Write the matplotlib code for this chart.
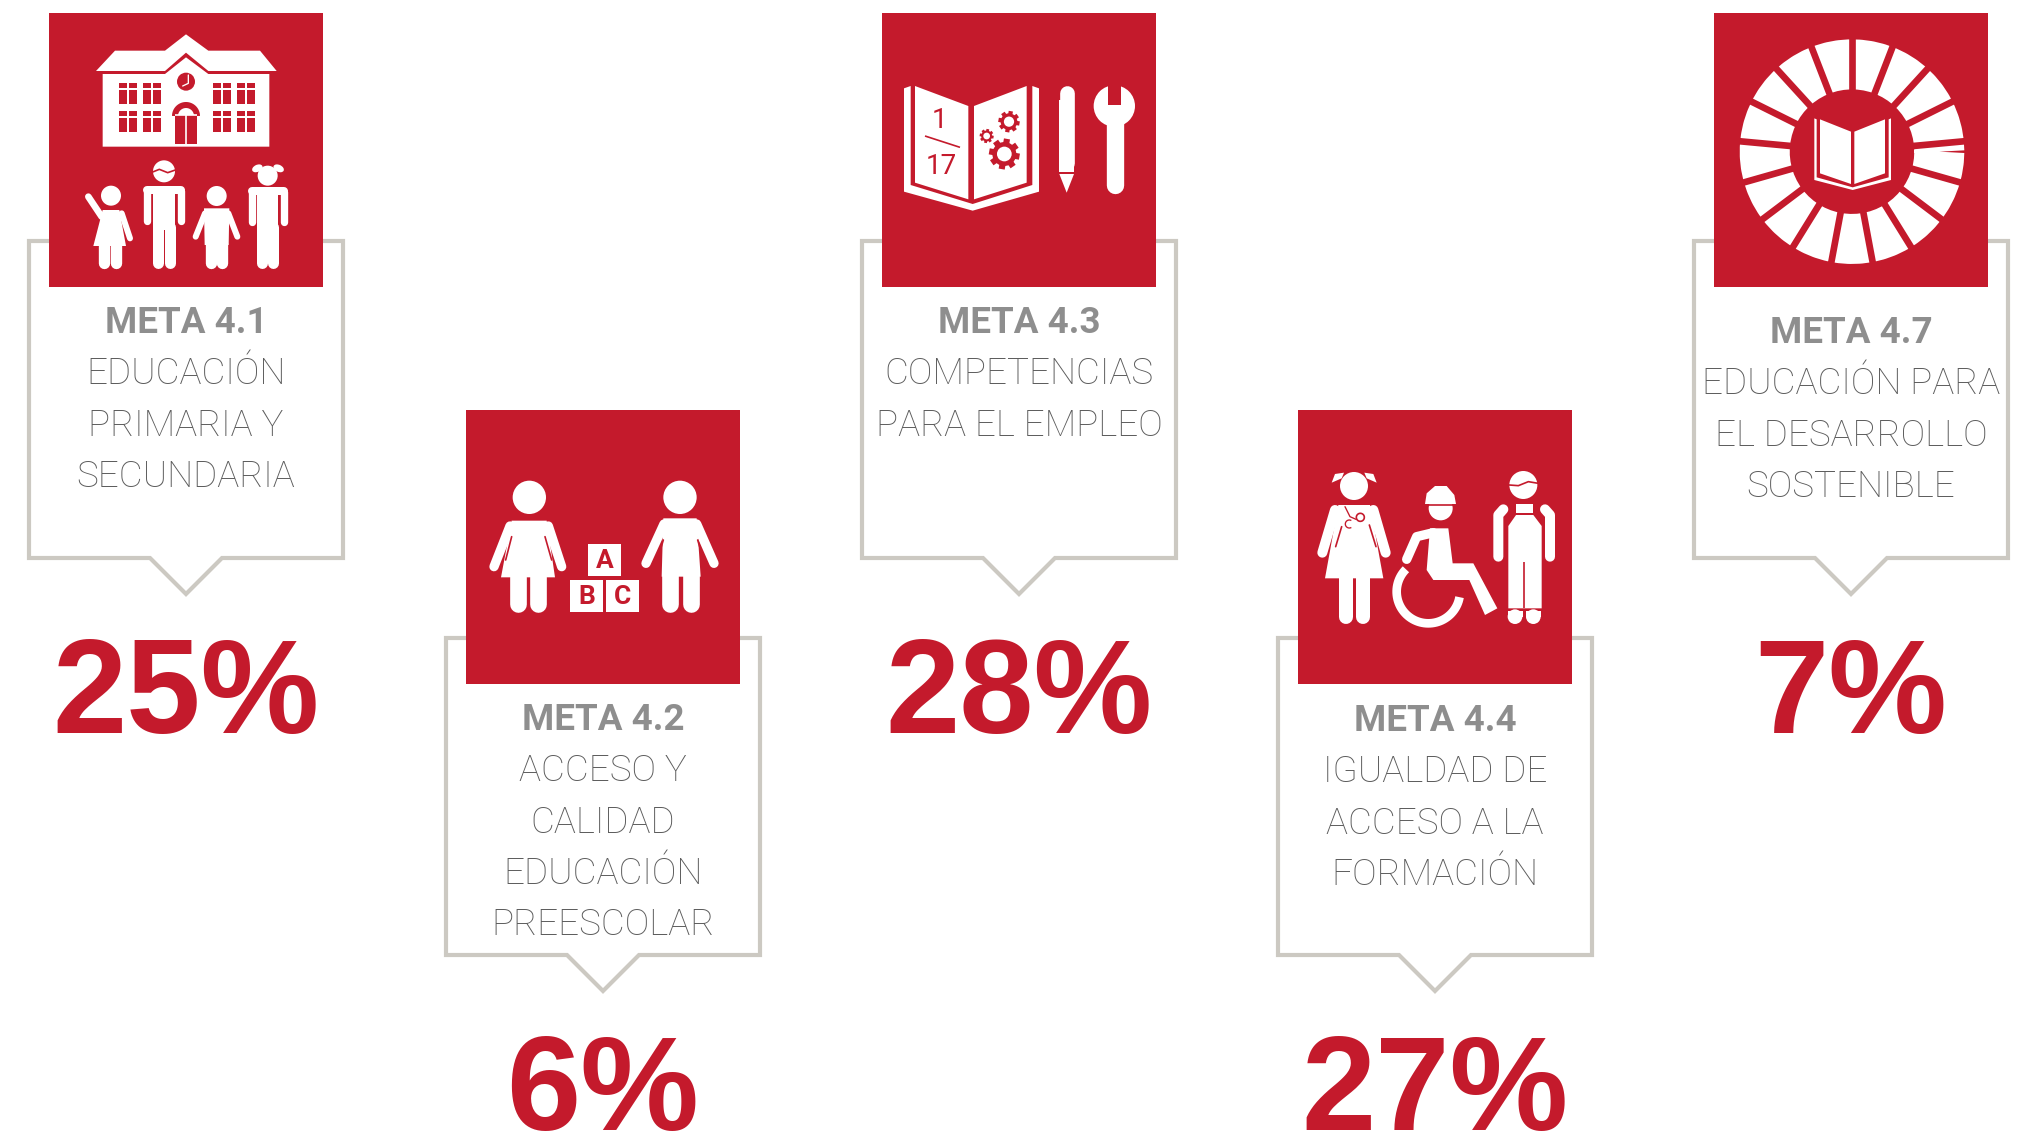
import matplotlib
matplotlib.use("Agg")
import matplotlib.pyplot as plt
from matplotlib.patches import Polygon, Circle, Rectangle, Ellipse
import numpy as np

# data
metas = ["META 4.1", "META 4.2", "META 4.3", "META 4.4", "META 4.7"]
labels = [
    ["EDUCACIÓN", "PRIMARIA Y", "SECUNDARIA"],
    ["ACCESO Y", "CALIDAD", "EDUCACIÓN", "PREESCOLAR"],
    ["COMPETENCIAS", "PARA EL EMPLEO"],
    ["IGUALDAD DE", "ACCESO A LA", "FORMACIÓN"],
    ["EDUCACIÓN PARA", "EL DESARROLLO", "SOSTENIBLE"],
]
percents = [25, 6, 28, 27, 7]

# layout, in pixels of the 2034x1135 picture
square_x = [49, 466, 882, 1298, 1714]
square_y = [13, 410, 13, 410, 13]
meta_base = [333, 730, 333, 731, 343]
pct_base = [733, 1130, 733, 1130, 733]
crop_x = [0, 440, 860, 1270, 1690]
crop_y = [0, 400, 0, 400, 0]

RED = "#C41A2C"
WHITE = "#FFFFFF"
GREY = "#8E8E8E"
GREY_LIGHT = "#5C5C5C"
BORDER = "#CCC9C2"

fig = plt.figure(figsize=(20.34, 11.35), dpi=100)
ax = fig.add_axes([0, 0, 1, 1])
ax.set_xlim(0, 2034)
ax.set_ylim(1135, 0)
ax.axis("off")

z = [1]
origin = [0, 0]


def nz():
    z[0] += 1
    return z[0]


def P(pts):
    return [(origin[0] + x / 3, origin[1] + y / 3) for x, y in pts]


def poly(pts, c=WHITE):
    ax.add_patch(Polygon(P(pts), closed=True, fc=c, ec="none", zorder=nz()))


def box(x0, y0, x1, y1, c=WHITE):
    poly([(x0, y0), (x1, y0), (x1, y1), (x0, y1)], c)


def disc(x, y, r, c=WHITE):
    ax.add_patch(Circle(P([(x, y)])[0], r / 3, fc=c, ec="none", zorder=nz()))


def stroke(pts, w, c=WHITE, cap="round"):
    q = P(pts)
    ax.plot([p[0] for p in q], [p[1] for p in q], color=c, lw=w / 3 * 0.72,
            solid_capstyle=cap, solid_joinstyle="round", zorder=nz())


def arc(x, y, r, a0, a1, w, c=WHITE, cap="butt"):
    t = np.radians(np.linspace(a0, a1, 60))
    stroke(list(zip(x + r * np.cos(t), y + r * np.sin(t))), w, c, cap)


def gear(x, y, r):
    for a in np.arange(0, 360, 45):
        t = np.radians(a + 10)
        stroke([(x, y), (x + r * np.cos(t), y + r * np.sin(t))], r * 0.4, RED, "butt")
    disc(x, y, r * 0.78, RED)
    disc(x, y, r * 0.48)


def adult(x, head_y, hr, top, arm_dx, arm_w, arm_end, leg_dx, leg_w, leg_top, leg_end):
    disc(x, head_y, hr)
    stroke([(x - arm_dx, top + 12), (x + arm_dx, top + 12)], 24)
    stroke([(x - arm_dx, top + 15), (x - arm_dx, arm_end)], arm_w)
    stroke([(x + arm_dx, top + 15), (x + arm_dx, arm_end)], arm_w)
    box(x - arm_dx + arm_w / 2 + 5, top, x + arm_dx - arm_w / 2 - 5, leg_top + 10)
    stroke([(x - leg_dx, leg_top), (x - leg_dx, leg_end)], leg_w)
    stroke([(x + leg_dx, leg_top), (x + leg_dx, leg_end)], leg_w)


def icon_school():
    poly([(288, 213), (345, 152), (495, 152), (558, 103), (625, 152), (780, 152), (830, 213),
          (625, 213), (558, 158), (495, 213)])
    poly([(308, 222), (495, 222), (558, 172), (625, 222), (808, 222), (808, 440), (308, 440)])
    for wy in [250, 333]:
        for wx in [358, 430, 640, 712]:
            box(wx, wy, wx + 52, wy + 62, RED)
            stroke([(wx + 26, wy), (wx + 26, wy + 62)], 6, WHITE, "butt")
            stroke([(wx, wy + 17), (wx + 52, wy + 17)], 6, WHITE, "butt")
    disc(558, 245, 27, RED)
    stroke([(565, 225), (565, 250), (548, 258)], 4)
    box(525, 345, 592, 432, RED)
    arc(558, 348, 33, 180, 360, 18, RED)
    stroke([(525, 345), (592, 345)], 5, WHITE, "butt")
    stroke([(558, 345), (558, 432)], 5, WHITE, "butt")
    # girl with the raised arm
    disc(333, 587, 30)
    poly([(308, 630), (358, 630), (378, 738), (280, 738)])
    stroke([(265, 590), (305, 650)], 20)
    stroke([(365, 640), (390, 715)], 18)
    stroke([(312, 738), (312, 788)], 34)
    stroke([(347, 738), (347, 788)], 34)
    # tall boy
    adult(492, 514, 33, 558, 50, 22, 662, 17, 33, 680, 788)
    stroke([(458, 516), (478, 508), (503, 518), (526, 510)], 5, RED)
    # small child
    disc(650, 588, 30)
    poly([(612, 625), (688, 625), (686, 735), (614, 735)])
    stroke([(615, 640), (587, 710)], 18)
    stroke([(685, 640), (712, 710)], 18)
    stroke([(632, 730), (632, 788)], 34)
    stroke([(667, 730), (667, 788)], 34)
    # tall girl
    adult(803, 527, 30, 562, 48, 22, 665, 17, 33, 680, 788)
    ax.add_patch(Ellipse(P([(772, 505)])[0], 11, 7, angle=-25, fc=WHITE, ec="none", zorder=nz()))
    ax.add_patch(Ellipse(P([(836, 505)])[0], 11, 7, angle=25, fc=WHITE, ec="none", zorder=nz()))


def icon_book():
    poly([(132, 265), (152, 258), (152, 555), (338, 612), (517, 555), (517, 258), (537, 265),
          (537, 575), (338, 632), (132, 575)])
    poly([(165, 258), (325, 318), (325, 598), (165, 548)])
    poly([(342, 318), (500, 258), (500, 548), (342, 598)])
    o = P([(240, 362), (244, 500)])
    ax.text(o[0][0], o[0][1], "1", color=RED, fontsize=20, ha="center", va="center",
            family="Roboto", zorder=nz())
    ax.text(o[1][0], o[1][1], "17", color=RED, fontsize=20, ha="center", va="center",
            family="Roboto", zorder=nz())
    stroke([(195, 408), (300, 442)], 5, RED, "butt")
    gear(447, 365, 32)
    gear(380, 408, 21)
    gear(433, 462, 46)
    stroke([(620, 280), (620, 490)], 44)
    box(598, 300, 642, 515)
    poly([(598, 522), (642, 522), (620, 578)])
    stroke([(765, 350), (765, 555)], 52)
    disc(763, 318, 62)
    box(745, 250, 783, 315, RED)


def icon_wheel():
    cx, cy = 486, 455
    arc(cx, cy, 262, 0, 360, 150)
    for a in np.arange(17) * 360 / 17 - 90:
        t = np.radians(a)
        stroke([(cx + 170 * np.cos(t), cy + 170 * np.sin(t)),
                (cx + 345 * np.cos(t), cy + 345 * np.sin(t))], 20, RED, "butt")
    poly([(373, 355), (373, 540), (488, 570), (603, 540), (603, 355), (596, 358), (596, 532),
          (488, 562), (380, 532), (380, 358)])
    poly([(390, 358), (483, 395), (483, 552), (390, 520)])
    poly([(493, 395), (585, 358), (585, 520), (493, 552)])


def icon_abc():
    disc(268, 292, 50)
    poly([(215, 362), (320, 362), (345, 532), (183, 532)])
    stroke([(210, 378), (162, 500)], 28)
    stroke([(325, 378), (365, 500)], 28)
    stroke([(215, 410), (197, 480)], 5, RED)
    stroke([(315, 410), (335, 480)], 5, RED)
    stroke([(233, 530), (233, 612)], 50)
    stroke([(295, 530), (295, 612)], 50)
    disc(720, 292, 50)
    poly([(670, 355), (770, 355), (782, 530), (665, 530)])
    stroke([(672, 372), (618, 490)], 28)
    stroke([(770, 372), (822, 490)], 28)
    stroke([(670, 420), (655, 470)], 5, RED)
    stroke([(773, 420), (788, 470)], 5, RED)
    stroke([(690, 525), (690, 612)], 50)
    stroke([(752, 525), (752, 612)], 50)
    for x0, y0, ch in [(445, 432, "A"), (391, 540, "B"), (499, 540, "C")]:
        box(x0, y0, x0 + 99, y0 + 96)
        q = P([(x0 + 49, y0 + 50)])[0]
        ax.text(q[0], q[1], ch, color=RED, fontsize=19, fontweight="bold", ha="center", va="center",
                family="Roboto", zorder=nz())


def icon_people():
    # girl with stethoscope
    disc(252, 258, 42)
    poly([(185, 248), (195, 222), (222, 218), (215, 235)])
    poly([(320, 248), (310, 222), (283, 218), (290, 235)])
    poly([(205, 315), (300, 315), (340, 535), (165, 535)])
    stroke([(195, 330), (157, 458)], 30)
    stroke([(310, 330), (347, 458)], 30)
    stroke([(215, 380), (197, 440)], 5, RED)
    stroke([(298, 375), (318, 440)], 5, RED)
    stroke([(228, 535), (228, 650)], 42)
    stroke([(278, 535), (278, 650)], 42)
    arc(271, 352, 12, 0, 360, 5, RED)
    stroke([(225, 320), (240, 350), (258, 358)], 4, RED)
    arc(238, 372, 12, 60, 300, 4, RED)
    # wheelchair
    disc(512, 325, 36)
    poly([(465, 312), (470, 280), (495, 258), (530, 258), (553, 285), (558, 312)])
    stroke([(465, 315), (558, 315)], 5, RED, "butt")
    poly([(480, 385), (535, 385), (548, 490), (610, 490), (682, 625), (645, 645), (598, 540),
          (490, 540), (470, 510)])
    stroke([(490, 398), (440, 410), (410, 478)], 28)
    arc(475, 575, 95, 10, 225, 26)
    # worker in overalls
    disc(760, 255, 42)
    stroke([(718, 255), (745, 257), (775, 245), (805, 250)], 5, RED)
    stroke([(700, 328), (685, 345), (685, 470)], 30)
    stroke([(825, 328), (840, 345), (840, 470)], 30)
    poly([(738, 345), (790, 345), (815, 378), (815, 625), (715, 625), (715, 378)])
    box(738, 312, 790, 340)
    stroke([(763, 485), (763, 625)], 5, RED, "butt")
    disc(735, 650, 22)
    disc(790, 650, 22)
    box(714, 632, 758, 650)
    box(768, 632, 812, 650)


icons = [icon_school, icon_abc, icon_book, icon_people, icon_wheel]

for i in range(len(metas)):
    sx, sy = square_x[i], square_y[i]
    # callout box behind the square
    l, r = sx - 20, sx + 294
    t, b = sy + 228, sy + 545
    c = sx + 137
    outline = [(l, t), (r, t), (r, b), (c + 36, b), (c, b + 36), (c - 36, b), (l, b)]
    ax.add_patch(Polygon(outline, closed=True, fc=WHITE, ec=BORDER, lw=3.0, joinstyle="miter", zorder=nz()))
    ax.add_patch(Rectangle((sx, sy), 274, 274, fc=RED, ec="none", zorder=nz()))
    origin[0], origin[1] = crop_x[i], crop_y[i]
    icons[i]()
    ax.text(c, meta_base[i], metas[i], color=GREY, fontsize=26.5, fontweight="bold",
            ha="center", va="baseline", family="Roboto", zorder=nz())
    for j, line in enumerate(labels[i]):
        ax.text(c, meta_base[i] + 51.3 * (j + 1), line, color=GREY_LIGHT, fontsize=26.5, fontweight="light",
                ha="center", va="baseline", family="Roboto", zorder=nz())
    ax.text(c, pct_base[i], f"{percents[i]}%", color=RED, fontsize=96, fontweight="bold",
            ha="center", va="baseline", family="Liberation Sans", zorder=nz())

plt.savefig("out.png", dpi=100, facecolor="white")
